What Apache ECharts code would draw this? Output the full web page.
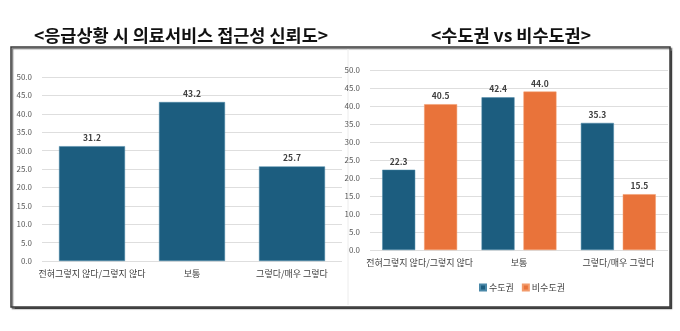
<!DOCTYPE html>
<html><head><meta charset="utf-8">
<script src="https://cdn.jsdelivr.net/npm/echarts@6/dist/echarts.min.js"></script>
<style>html,body{margin:0;padding:0;background:#fff}#c{width:680px;height:331px}</style>
</head><body><div id="c"></div>
<script>
const categories = ['전혀그렇지 않다/그렇지 않다', '보통', '그렇다/매우 그렇다'];
const overallValues = [31.2, 43.2, 25.7];
const metroValues = [22.3, 42.4, 35.3];
const nonMetroValues = [40.5, 44.0, 15.5];
const seriesNames = ['수도권', '비수도권'];
const titleLeft = '<응급상황 시 의료서비스 접근성 신뢰도>';
const titleRight = '<수도권 vs 비수도권>';

const BLUE = '#1c5d7f', ORANGE = '#e9733a';
const FONT = '"Noto Sans CJK KR", "Noto Sans", sans-serif';
const chart = echarts.init(document.getElementById('c'), null, {renderer: 'canvas'});
const fmt = v => Number(v).toFixed(1);
const yAxisBase = {
  type: 'value', min: 0, max: 50, interval: 5,
  axisLabel: {formatter: fmt, fontSize: 8, color: '#595959', fontFamily: FONT, margin: 10},
  splitLine: {lineStyle: {color: '#dedede', width: 1}},
  axisLine: {show: false}, axisTick: {show: false}
};
const xAxisBase = {
  type: 'category', data: categories,
  axisLine: {show: false}, axisTick: {show: false},
  axisLabel: {fontSize: 9, color: '#404040', fontFamily: FONT, margin: 8, interval: 0}
};
const lbl = {show: true, position: 'top', formatter: p => fmt(p.value), fontSize: 8.5, fontWeight: 'bold', color: '#404040', fontFamily: FONT, distance: 4};

chart.setOption({
  animation: false,
  backgroundColor: '#fff',
  graphic: [
    {type: 'rect', z: -10, shape: {x: 11, y: 47, width: 659, height: 260},
     style: {fill: '#fff', stroke: '#3a3a3a', lineWidth: 1.5, shadowColor: 'rgba(0,0,0,0.55)', shadowBlur: 1, shadowOffsetX: 1.5, shadowOffsetY: 1.5}},
    {type: 'line', z: -9, shape: {x1: 348, y1: 49, x2: 348, y2: 305}, style: {stroke: '#ececec', lineWidth: 1}}
  ],
  title: [
    {text: titleLeft, left: 176, top: 22, textAlign: 'center',
     textStyle: {fontSize: 17.5, fontWeight: 'bold', color: '#111', fontFamily: FONT}},
    {text: titleRight, left: 506, top: 22, textAlign: 'center',
     textStyle: {fontSize: 17.5, fontWeight: 'bold', color: '#111', fontFamily: FONT}}
  ],
  legend: {
    data: seriesNames, left: 474, top: 278, itemWidth: 6, itemHeight: 6, itemGap: 8,
    icon: 'rect', textStyle: {fontSize: 9, color: '#404040', fontFamily: FONT, padding: [0, 0, 0, -2]}
  },
  grid: [
    {left: 42, right: 338, top: 77, bottom: 70},
    {left: 370, right: 12, top: 70, bottom: 81}
  ],
  xAxis: [
    Object.assign({gridIndex: 0}, xAxisBase),
    Object.assign({gridIndex: 1}, xAxisBase)
  ],
  yAxis: [
    Object.assign({gridIndex: 0}, yAxisBase),
    Object.assign({gridIndex: 1}, yAxisBase)
  ],
  series: [
    {type: 'bar', name: '전체', xAxisIndex: 0, yAxisIndex: 0, data: overallValues, barWidth: '66%',
     itemStyle: {color: BLUE, borderColor: '#4a88a8', borderWidth: 0.5}, label: lbl},
    {type: 'bar', name: seriesNames[0], xAxisIndex: 1, yAxisIndex: 1, data: metroValues, barWidth: 33, barGap: '27%',
     itemStyle: {color: BLUE, borderColor: '#4a88a8', borderWidth: 0.5}, label: lbl},
    {type: 'bar', name: seriesNames[1], xAxisIndex: 1, yAxisIndex: 1, data: nonMetroValues, barWidth: 33, barGap: '27%',
     itemStyle: {color: ORANGE, borderColor: '#f29a6a', borderWidth: 0.5}, label: lbl}
  ]
});
</script></body></html>
